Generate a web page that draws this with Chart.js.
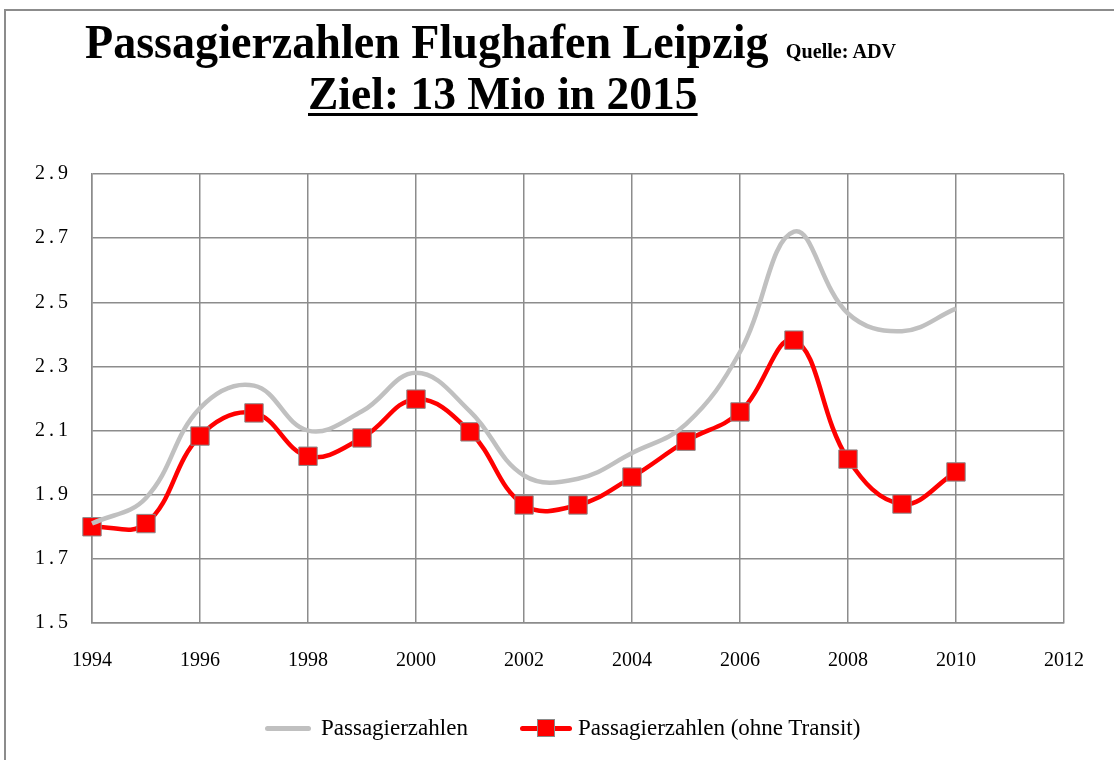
<!DOCTYPE html>
<html>
<head>
<meta charset="utf-8">
<script src="https://cdn.jsdelivr.net/npm/chart.js@4.4.1/dist/chart.umd.min.js"></script>
<style>
  body { margin: 0; background: #fff; overflow: hidden; }
  #wrap { position: relative; width: 1114px; height: 760px; font-family: "Liberation Serif", "DejaVu Serif", serif; }
  #frame { position: absolute; left: 4px; top: 9px; width: 1200px; height: 800px; border: 2px solid #8c8c8c; }
  canvas { position: absolute; left: 0; top: 0; }
  .t { position: absolute; white-space: nowrap; color: #000; line-height: 1; transform-origin: left top; }
  #t1 { left: 85px; top: 18px; font-size: 48px; font-weight: bold; transform: scaleX(0.96); }
  #t1 small { font-size: 21px; font-weight: bold; margin-left: 6px; }
  #t2 { left: 308px; top: 71px; font-size: 46px; font-weight: bold; text-decoration: underline; text-decoration-thickness: 3px; text-underline-offset: 4px; transform: scaleX(0.99); }
  #legend { position: absolute; left: 0; top: 715px; width: 1114px; font-size: 23px; }
  .li { position: absolute; top: 0; height: 26px; display: flex; align-items: center; }
  .ln { height: 5px; border-radius: 3px; }
  .sq { position: absolute; width: 18px; height: 18px; background: #ff0000; border: 1px solid #8a8a8a; box-sizing: border-box; }
</style>
</head>
<body>
<div id="wrap">
  <div id="frame"></div>
  <canvas id="chart" width="1114" height="760"></canvas>
  <div class="t" id="t1">Passagierzahlen Flughafen Leipzig <small>Quelle: ADV</small></div>
  <div class="t" id="t2">Ziel: 13 Mio in 2015</div>
  <div id="legend">
    <div class="li" style="left:265px;">
      <div class="ln" style="width:46px;background:#c0c0c0;"></div>
      <span style="margin-left:10px;">Passagierzahlen</span>
    </div>
    <div class="li" style="left:520px;">
      <div style="position:relative;width:52px;height:26px;">
        <div class="ln" style="position:absolute;left:0;top:11px;width:52px;background:#ff0000;"></div>
        <div class="sq" style="left:17px;top:4px;"></div>
      </div>
      <span style="margin-left:6px;">Passagierzahlen (ohne Transit)</span>
    </div>
  </div>
</div>
<script>
// Jahre und Passagiere in Mio
const jahre = [1994, 1995, 1996, 1997, 1998, 1999, 2000, 2001, 2002, 2003, 2004, 2005, 2006, 2007, 2008, 2009, 2010];
const passagiere = [1.81, 1.89, 2.17, 2.24, 2.10, 2.16, 2.28, 2.16, 1.96, 1.95, 2.03, 2.12, 2.345, 2.72, 2.465, 2.41, 2.48];
const ohneTransit = [1.80, 1.81, 2.083, 2.155, 2.02, 2.077, 2.198, 2.096, 1.868, 1.868, 1.955, 2.067, 2.158, 2.382, 2.011, 1.871, 1.971];

const xMin = 1994, xMax = 2012, xStep = 2;
const yMin = 1.5, yMax = 2.9, yStep = 0.2;

const punkte = (werte) => jahre.map((j, i) => ({ x: j, y: werte[i] }));

const gridGrey = "#8c8c8c";
const tickFont = { family: "Liberation Serif", size: 20 };

const chart = new Chart(document.getElementById("chart"), {
    type: "line",
    data: {
        datasets: [
            {
                label: "Passagierzahlen",
                data: punkte(passagiere),
                borderColor: "#c0c0c0",
                borderWidth: 4.5,
                pointRadius: 0,
                tension: 0.4,
                fill: false,
                clip: false,
            },
            {
                label: "Passagierzahlen (ohne Transit)",
                data: punkte(ohneTransit),
                borderColor: "#ff0000",
                borderWidth: 4.5,
                pointStyle: "rect",
                pointRadius: 13,
                pointBackgroundColor: "#ff0000",
                pointBorderColor: "#8a8a8a",
                pointBorderWidth: 1,
                tension: 0.4,
                fill: false,
                clip: false,
            },
        ],
    },
    options: {
        responsive: false,
        animation: false,
        events: [],
        layout: { padding: { left: 0, top: 174, right: 50, bottom: 77 } },
        plugins: { legend: { display: false }, title: { display: false }, tooltip: { enabled: false } },
        scales: {
            x: {
                type: "linear",
                min: xMin,
                max: xMax,
                grid: { color: gridGrey, lineWidth: 1.5, drawTicks: false },
                border: { color: gridGrey, width: 1.5 },
                ticks: {
                    stepSize: xStep,
                    padding: 26,
                    color: "#000",
                    font: tickFont,
                    callback: (v) => String(v),
                },
                afterFit: (s) => { s.height = 60; },
            },
            y: {
                min: yMin,
                max: yMax,
                grid: { color: gridGrey, lineWidth: 1.5, drawTicks: false },
                border: { color: gridGrey, width: 1.5 },
                ticks: {
                    stepSize: yStep,
                    padding: 24,
                    color: "#000",
                    font: tickFont,
                    callback: (v) => v.toFixed(1).split("").join("\u2009"),
                },
                afterFit: (s) => { s.width = 92; },
            },
        },
    },
});
</script>
</body>
</html>
